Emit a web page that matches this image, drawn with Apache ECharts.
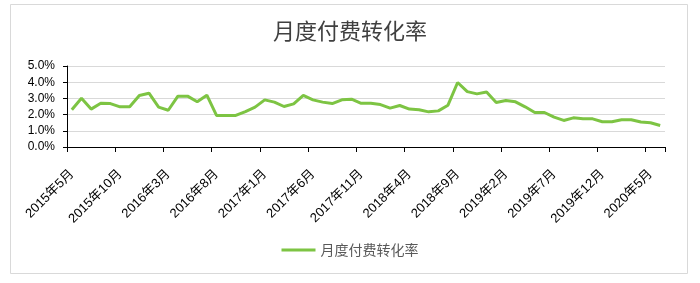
<!DOCTYPE html>
<html><head><meta charset="utf-8">
<script src="https://cdn.jsdelivr.net/npm/echarts@6/dist/echarts.min.js"></script>
<style>html,body{margin:0;padding:0;background:#fff}#c{width:700px;height:283px}</style>
</head><body><div id="c"></div>
<script>
var title = '月度付费转化率';
var seriesName = '月度付费转化率';
var categories = [
 '2015年5月','2015年6月','2015年7月','2015年8月','2015年9月','2015年10月','2015年11月','2015年12月',
 '2016年1月','2016年2月','2016年3月','2016年4月','2016年5月','2016年6月','2016年7月','2016年8月','2016年9月','2016年10月','2016年11月','2016年12月',
 '2017年1月','2017年2月','2017年3月','2017年4月','2017年5月','2017年6月','2017年7月','2017年8月','2017年9月','2017年10月','2017年11月','2017年12月',
 '2018年1月','2018年2月','2018年3月','2018年4月','2018年5月','2018年6月','2018年7月','2018年8月','2018年9月','2018年10月','2018年11月','2018年12月',
 '2019年1月','2019年2月','2019年3月','2019年4月','2019年5月','2019年6月','2019年7月','2019年8月','2019年9月','2019年10月','2019年11月','2019年12月',
 '2020年1月','2020年2月','2020年3月','2020年4月','2020年5月','2020年6月'
];
var rates = [
 2.30,3.01,2.34,2.70,2.68,2.48,2.48,3.18,3.32,2.46,2.27,3.14,3.14,2.79,3.20,
 1.95,1.95,1.95,2.19,2.46,2.91,2.77,2.50,2.66,3.18,2.91,2.77,2.68,2.91,2.95,
 2.70,2.70,2.62,2.40,2.56,2.34,2.30,2.17,2.23,2.58,3.98,3.42,3.28,3.40,2.75,
 2.87,2.79,2.48,2.13,2.13,1.84,1.64,1.80,1.74,1.74,1.56,1.56,1.68,1.68,1.54,
 1.50,1.33
];
var yTicks = [0,1,2,3,4,5];

var chart = echarts.init(document.getElementById('c'), null, {renderer:'canvas'});
var numFont = 'Liberation Sans, Noto Sans CJK SC, sans-serif';
chart.setOption({
  animation:false,
  backgroundColor:'#fff',
  graphic:[{type:'rect', shape:{x:10.5,y:4.5,width:677,height:269}, style:{fill:'none', stroke:'#d9d9d9', lineWidth:1}, silent:true, z:-1}],
  title:{text:title, left:'center', top:15, textStyle:{fontFamily:'Noto Sans CJK SC, sans-serif', fontSize:22, fontWeight:'normal', color:'#404040'}},
  legend:{bottom:21, left:'center', icon:'rect', itemWidth:34, itemHeight:3, itemGap:4,
    textStyle:{fontFamily:'Noto Sans CJK SC, sans-serif', fontSize:14, color:'#595959'}},
  grid:{left:67, right:35, top:66, bottom:136, containLabel:false},
  xAxis:{type:'category', data:categories, boundaryGap:true,
    axisLine:{lineStyle:{color:'#000', width:1}},
    axisTick:{show:true, interval:4, length:5, lineStyle:{color:'#000'}},
    axisLabel:{interval:4, rotate:45, margin:25, fontFamily:numFont, fontSize:13, color:'#000'}},
  yAxis:{type:'value', min:0, max:5, interval:1,
    axisLine:{show:true, lineStyle:{color:'#000', width:1}},
    axisTick:{show:true, length:4, inside:false, lineStyle:{color:'#000'}},
    splitLine:{lineStyle:{color:'#d9d9d9', width:1}},
    axisLabel:{margin:12, fontFamily:numFont, fontSize:12, color:'#000',
      formatter:function(v){return v.toFixed(1)+'%';}}},
  series:[{name:seriesName, type:'line', data:rates, symbol:'none', smooth:false,
    lineStyle:{color:'#7dc443', width:3}, itemStyle:{color:'#7dc443'}}]
});
</script></body></html>
